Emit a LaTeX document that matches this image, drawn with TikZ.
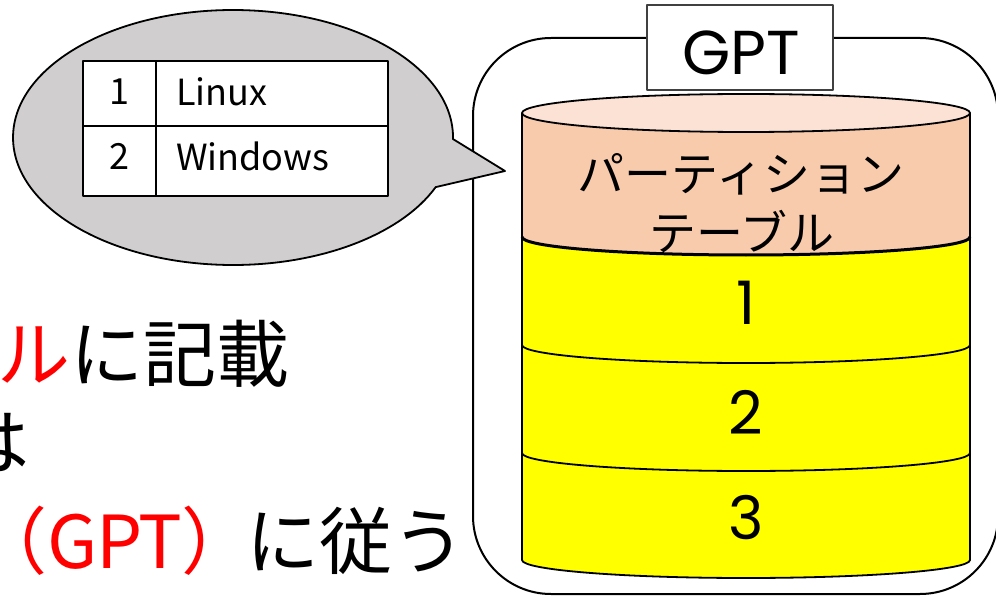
\documentclass[tikz,border=0pt]{standalone}
\usepackage{fontspec}
\setmainfont{Noto Sans CJK JP}
\newfontfamily\geofont{Poppins}
\definecolor{calloutgray}{HTML}{D0CECE}
\definecolor{pinkband}{HTML}{F8CBAD}
\definecolor{pinktop}{HTML}{FBE2D4}
\definecolor{diskyellow}{HTML}{FFFF00}
\definecolor{slidered}{HTML}{FF0000}
\definecolor{labelborder}{HTML}{404040}
\begin{document}
\begin{tikzpicture}[x=1pt,y=-1pt,line join=round,
  stroke/.style={draw=black,line width=1.8pt},
  bigtext/.style={inner sep=0pt,anchor=west,font=\fontsize{73}{80}\selectfont},
  celltext/.style={inner sep=0pt,font=\fontsize{36}{40}\selectfont},
  disktext/.style={inner sep=0pt,font=\fontsize{47}{52}\selectfont},
  disknum/.style={inner sep=0pt,font=\geofont\fontsize{60}{66}\selectfont},
  bandarc/.style={start angle=180,end angle=0,x radius=224,y radius=18}]
\useasboundingbox (0,0) rectangle (996,596);
\clip (0,0) rectangle (996,596);

% frame around the disk
\draw[line width=2pt,rounded corners=78pt] (473,38) rectangle (998,594);

% speech bubble
\filldraw[fill=calloutgray,stroke] (453,139.06) arc[start angle=0.7,end angle=-337.1,x radius=220,y radius=127.5] -- (505,171) -- cycle;

% table inside the bubble
\filldraw[fill=white,stroke] (83,61) rectangle (388,196);
\draw[stroke] (83,126) -- (388,126);
\draw[stroke] (156,61) -- (156,196);
\node[celltext] (cellone) at (119,92) {1};
\node[celltext] (celltwo) at (119,156) {2};
\node[celltext,anchor=west] (celllinux) at (176,92) {Linux};
\node[celltext,anchor=west] (cellwin) at (176,156) {Windows};

% GPT label
\filldraw[fill=white,draw=labelborder,line width=1.3pt] (647,5) rectangle (833,90);
\node[inner sep=0pt,font=\geofont\fontsize{62}{68}\selectfont] (gptlabel) at (741,53) {GPT};

% disk (cylinder)
\fill[pinkband] (522,113) -- (522,237) arc[bandarc] -- (970,113) -- cycle;
\fill[diskyellow] (522,237) arc[bandarc] -- (970,560) arc[start angle=0,end angle=180,x radius=224,y radius=18] -- cycle;
\filldraw[fill=pinktop,stroke] (746,113) ellipse[x radius=224,y radius=19];
\draw[stroke] (522,113) -- (522,560) arc[bandarc] -- (970,113);
\draw[draw=black,line width=3pt] (522,237) arc[bandarc];
\draw[stroke] (522,345) arc[bandarc];
\draw[stroke] (522,453) arc[bandarc];

\node[disktext] (ptline1) at (741,174) {パーティション};
\node[disktext] (ptline2) at (742,231) {テーブル};
\node[disknum] (partone) at (746,303) {1};
\node[disknum] (parttwo) at (746,412) {2};
\node[disknum] (partthree) at (746,518) {3};

% left-hand text (cut off at the left edge)
\node[bigtext] (textone) at (-3,354) {\textcolor{slidered}{ル}に記載};
\node[bigtext] (texttwo) at (-44,443) {は};
\node[bigtext] (textthree) at (-26,541) {\textcolor{slidered}{（\addfontfeature{LetterSpace=-2}GPT）}\hspace{-8pt}に従う};
\end{tikzpicture}
\end{document}
